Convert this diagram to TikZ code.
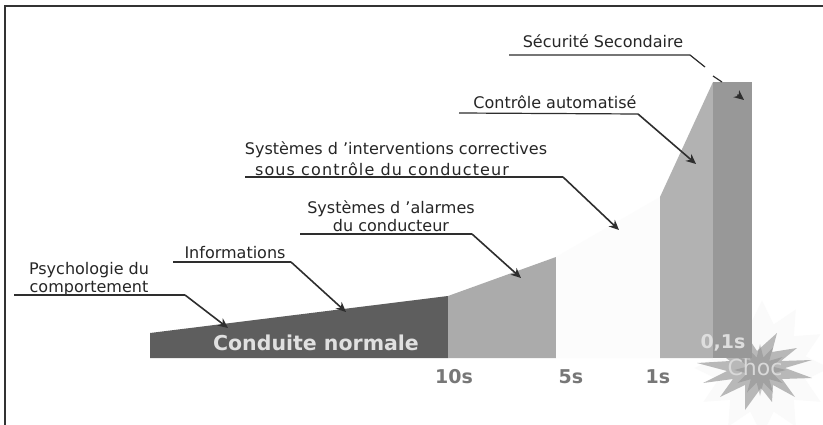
\documentclass[tikz,border=0pt]{standalone}
\usepackage{fontspec}
\usetikzlibrary{shapes.geometric, arrows.meta}
\setmainfont{DejaVu Sans}
\definecolor{zonedark}{HTML}{5E5E5E}
\definecolor{zonemid}{HTML}{ABABAB}
\definecolor{zonepale}{HTML}{FCFCFC}
\definecolor{zonelight}{HTML}{B2B2B2}
\definecolor{zonedeep}{HTML}{989898}
\definecolor{leadercol}{HTML}{2E2E2E}
\definecolor{timecol}{HTML}{777777}
\tikzset{>={Stealth[length=10pt,width=9pt]},
  leader/.style={leadercol, line width=1.2pt},
  tip/.style={->, leadercol, line width=1.6pt},
  lab/.style={inner sep=0pt, align=center, font=\fontsize{16}{18.5}\selectfont, text=black!85},
  time/.style={inner sep=0pt, font=\bfseries\fontsize{19}{21}\selectfont, text=timecol}
}
\begin{document}
\begin{tikzpicture}[x=1pt,y=-1pt]
     \useasboundingbox (0,0) rectangle (823,425);
     \fill[white] (0,0) rectangle (823,425);
     \draw[black!80, line width=1.2pt] (823,6) -- (5,6) -- (5,425);
     % le choc
     \node[star, star points=12, star point ratio=1.5, minimum size=135pt, inner sep=0pt, fill=black!2] (halo) at (762,368) {};
     \fill[black!32, opacity=0.85] (777,333) -- (772,352) -- (797,348) -- (781,361) -- (812,360) -- (785,368)
        -- (812,378) -- (782,379) -- (795,397) -- (773,385) -- (772,402) -- (761,388) -- (745,410)
        -- (745,385) -- (720,397) -- (733,379) -- (703,383) -- (727,371) -- (697,363) -- (730,361)
        -- (709,345) -- (742,354) -- (745,333) -- (757,351) -- cycle;
     \node[star, star points=12, star point ratio=2, minimum size=52pt, inner sep=0pt, fill=black!50, opacity=0.4] (core) at (760,370) {};
     % les zones
     \fill[zonedark] (150,333) -- (448,296) -- (448,358) -- (150,358) -- cycle;
     \fill[zonemid] (448,296) -- (556,257) -- (556,358) -- (448,358) -- cycle;
     \fill[zonepale] (556,257) -- (660,197) -- (660,358) -- (556,358) -- cycle;
     \fill[zonelight] (660,197) -- (713,82) -- (713,358) -- (660,358) -- cycle;
     \fill[zonedeep] (713,82) -- (752,82) -- (752,358) -- (713,358) -- cycle;
     % les textes
     \node[lab] (psycho) at (89,279) {Psychologie du\\comportement};
     \node[lab] (info) at (235,253) {Informations};
     \node[lab] (alarme) at (391,216) {Systèmes d 'alarmes\\du conducteur};
     \node[lab] (interv) at (396,150) {Systèmes d 'interventions correctives};
     \node[lab] (sous) at (382,169) {\addfontfeature{LetterSpace=7}sous contrôle du conducteur};
     \node[lab] (auto) at (555,102) {Contrôle automatisé};
     \node[lab] (secu) at (603,41) {Sécurité Secondaire};
     \node[time, text=black!12, font=\bfseries\fontsize{20.5}{23}\selectfont] (normale) at (316,343) {Conduite normale};
     \node[time] (dix) at (454,377) {10s};
     \node[time] (cinq) at (571,377) {5s};
     \node[time] (une) at (658,377) {1s};
     \node[time, text=black!13] (dixieme) at (723,343) {0,1s};
     \node[lab, text=black!15, font=\fontsize{22}{24}\selectfont] (choc) at (755,367) {Choc};
     % les fleches
     \coordinate (psyA) at (14,295);
     \coordinate (psyB) at (185,295);
     \coordinate (psyT) at (228,328);
     \coordinate (infA) at (173,262);
     \coordinate (infB) at (291,262);
     \coordinate (infT) at (346,312);
     \coordinate (alaA) at (300,234);
     \coordinate (alaB) at (472,234);
     \coordinate (alaT) at (521,278);
     \coordinate (intA) at (245,177);
     \coordinate (intB) at (563,177);
     \coordinate (intT) at (619,230);
     \coordinate (conA) at (459,113);
     \coordinate (conB) at (638,114);
     \coordinate (conT) at (696,164);
     \coordinate (secA) at (509,55);
     \coordinate (secB) at (690,55);
     \coordinate (secC) at (705,67);
     \coordinate (secD) at (713,76);
     \coordinate (secE) at (722,82);
     \coordinate (secT) at (744,100);
     \draw[leader] (psyA) -- (psyB);
     \draw[tip] (psyB) -- (psyT);
     \draw[leader] (infA) -- (infB);
     \draw[tip] (infB) -- (infT);
     \draw[leader] (alaA) -- (alaB);
     \draw[tip] (alaB) -- (alaT);
     \draw[leader] (intA) -- (intB);
     \draw[tip] (intB) -- (intT);
     \draw[leader] (conA) -- (conB);
     \draw[tip] (conB) -- (conT);
     \draw[leader] (secA) -- (secB) -- (secC);
     \draw[leader] (secD) -- (secE);
     \draw[tip, shorten <=20pt] (secE) -- (secT);
\end{tikzpicture}
\end{document}
